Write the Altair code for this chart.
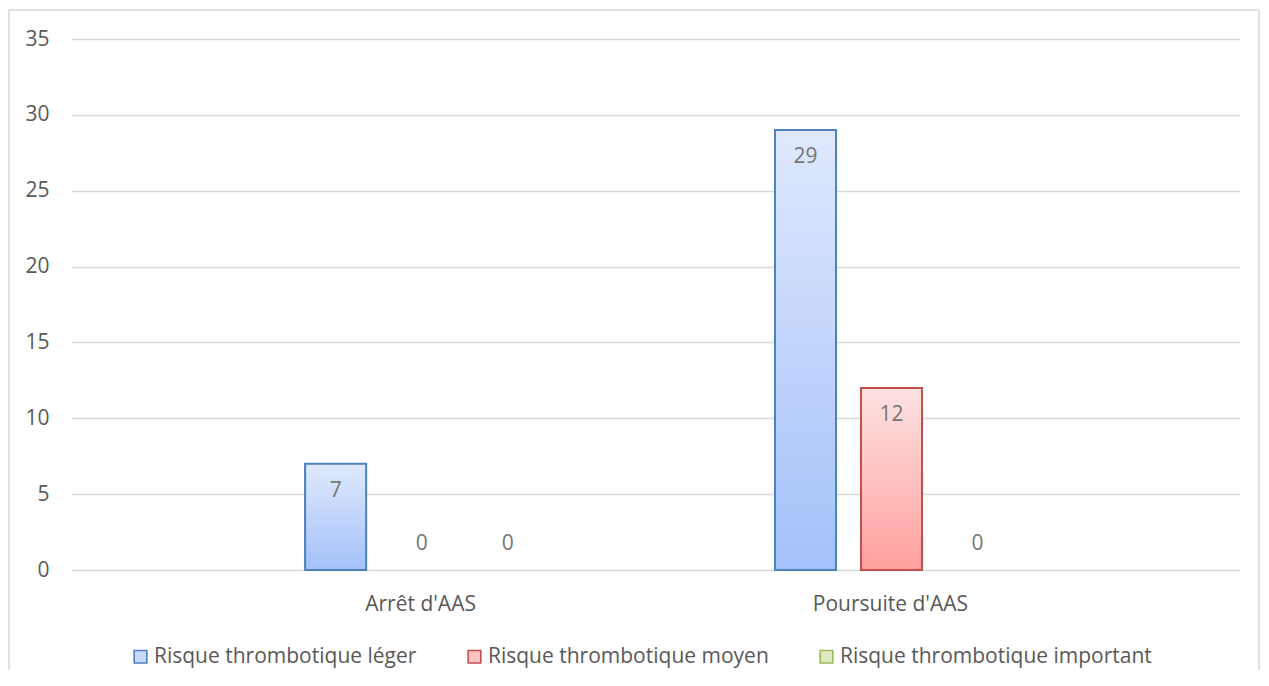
import altair as alt
import pandas as pd

categories = ["Arrêt d'AAS", "Poursuite d'AAS"]
series = ["Risque thrombotique léger", "Risque thrombotique moyen", "Risque thrombotique important"]
leger = [7, 29]
moyen = [0, 12]
important = [0, 0]

stroke_colors = ["#4f81bd", "#c0504d", "#9bbb59"]
grad_top = ["#dfe9fd", "#fde3e2", "#eef5e0"]
grad_bot = ["#a3c1f9", "#ff9f9d", "#c9e29b"]
legend_fill = ["#c6d9fb", "#fdc4c3", "#dcebbf"]

rows = []
for s, vals in zip(series, [leger, moyen, important]):
    for c, v in zip(categories, vals):
        rows.append({"cat": c, "serie": s, "value": v})
df = pd.DataFrame(rows)

FONT = "Open Sans"
FS = 21

x_enc = alt.X("cat:N", sort=categories,
              scale=alt.Scale(paddingInner=0, paddingOuter=0.244),
              axis=alt.Axis(title=None, labelAngle=0, ticks=False, domain=False,
                            labelPadding=23, labelFontSize=FS, labelColor="#595959",
                            labelFont=FONT, grid=False))
xo_enc = alt.XOffset("serie:N", sort=series,
                     scale=alt.Scale(domain=series, range=[107, 365],
                                     paddingInner=0.29, paddingOuter=0.145))
y_enc = alt.Y("value:Q",
              scale=alt.Scale(domain=[0, 35], nice=False),
              axis=alt.Axis(title=None, values=[0, 5, 10, 15, 20, 25, 30, 35], ticks=False,
                            domain=False, labelPadding=22, labelFontSize=FS,
                            labelColor="#595959", labelFont=FONT,
                            gridColor="#d9d9d9", gridWidth=1.3))

base = alt.Chart(df)

frame = alt.Chart(pd.DataFrame({"k": [0]})).mark_rect(
    fill=None, stroke="#d9d9d9", strokeWidth=1.5
).encode(x=alt.value(-62), x2=alt.value(1188), y=alt.value(-29), y2=alt.value(700))

legend_layer = base.transform_filter(alt.datum.value > 0).mark_bar(strokeWidth=1.5).encode(
    x=x_enc, xOffset=xo_enc, y=y_enc,
    fill=alt.Fill("serie:N", sort=series,
                  scale=alt.Scale(domain=series, range=legend_fill),
                  legend=alt.Legend(title=None)),
    stroke=alt.Stroke("serie:N", sort=series,
                      scale=alt.Scale(domain=series, range=stroke_colors),
                      legend=alt.Legend(title=None)),
)

layers = [frame, legend_layer]
for i, s in enumerate(series):
    grad = alt.LinearGradient(
        gradient="linear", x1=0, x2=0, y1=0, y2=1,
        stops=[alt.GradientStop(offset=0, color=grad_top[i]),
               alt.GradientStop(offset=1, color=grad_bot[i])])
    layers.append(
        base.transform_filter((alt.datum.serie == s) & (alt.datum.value > 0))
        .mark_bar(fill=grad, stroke=stroke_colors[i], strokeWidth=2)
        .encode(x=x_enc, xOffset=xo_enc, y=y_enc)
    )

labels_pos = base.transform_filter(alt.datum.value > 0).mark_text(
    dy=27, baseline="middle", fontSize=FS, color="#767676", font=FONT
).encode(x=x_enc, xOffset=xo_enc, y=y_enc, text="value:Q")
labels_zero = base.transform_filter(alt.datum.value == 0).mark_text(
    dy=-26, baseline="middle", fontSize=FS, color="#767676", font=FONT
).encode(x=x_enc, xOffset=xo_enc, y=y_enc, text="value:Q")
layers += [labels_pos, labels_zero]

chart = alt.layer(*layers).properties(
    width=1169, height=531,
    autosize=alt.AutoSizeParams(type="none"),
    padding={"left": 63, "top": 31, "right": 21, "bottom": 100},
).configure_view(stroke=None).configure_legend(
    orient="none", legendX=59, legendY=607, direction="horizontal",
    symbolType="square", symbolSize=160, symbolStrokeWidth=1.6,
    labelFontSize=FS, labelColor="#595959", labelFont=FONT, labelLimit=0,
    labelOffset=3, columnPadding=47,
)

chart.save("out.html", embed_options={"renderer": "svg", "actions": False})
